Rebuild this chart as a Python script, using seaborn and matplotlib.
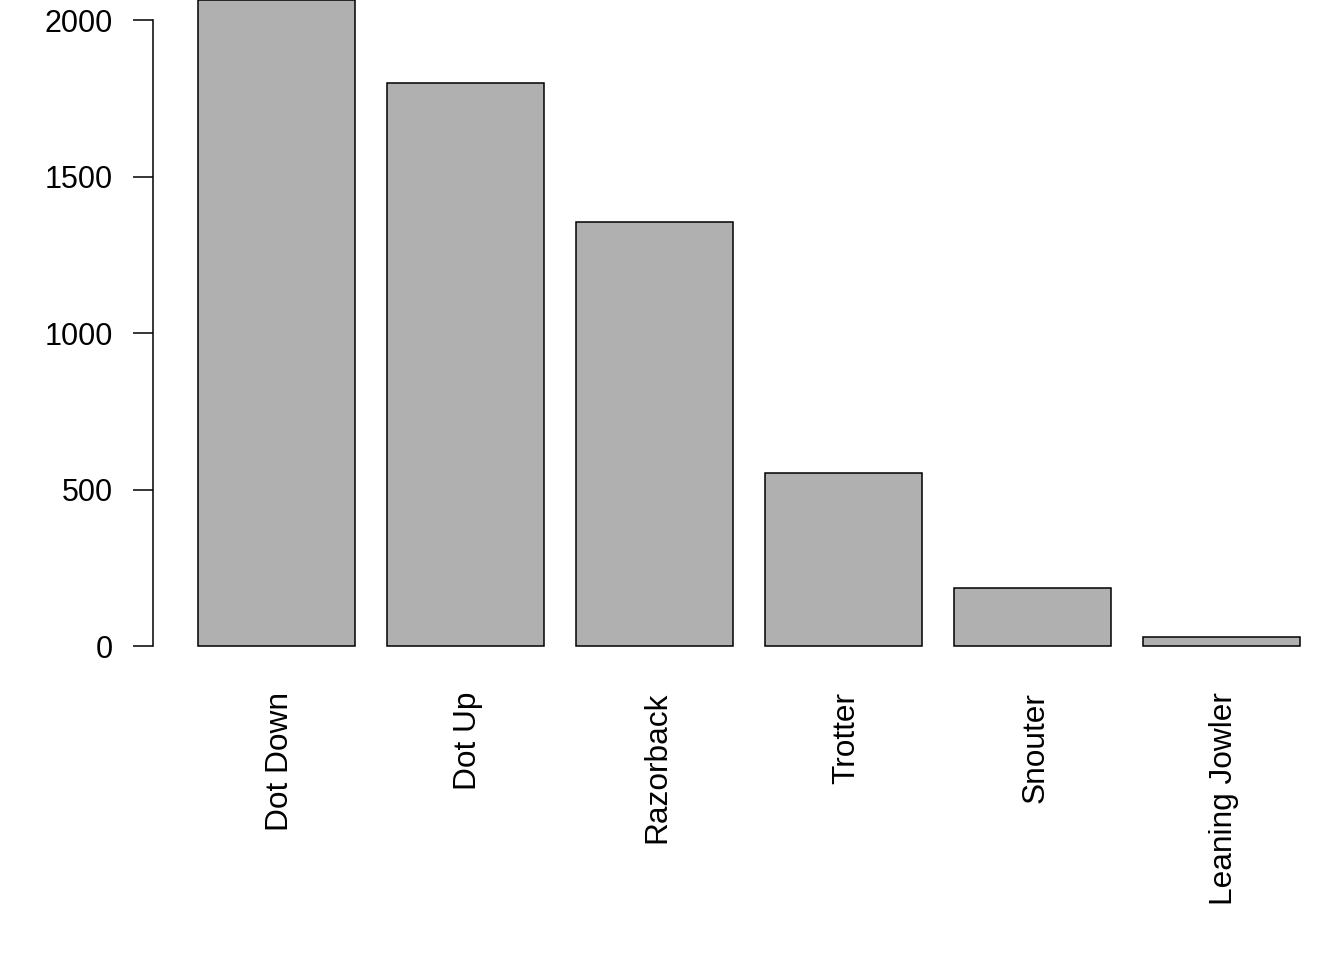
import matplotlib
matplotlib.use("Agg")
import matplotlib.pyplot as plt
import matplotlib.transforms as mtransforms
import seaborn as sns
import pandas as pd

# pig positions and their counts
positions = ["Dot Down", "Dot Up", "Razorback", "Trotter", "Snouter", "Leaning Jowler"]
counts = [2063, 1798, 1354, 552, 184, 29]
y_ticks = [0, 500, 1000, 1500, 2000]

df = pd.DataFrame({"position": positions, "count": counts})

sns.set_style("white")
plt.rcParams["font.family"] = ["Liberation Sans", "DejaVu Sans"]

fig = plt.figure(figsize=(13.44, 9.6), dpi=100)
ax = fig.add_axes([153 / 1344, (960 - 646) / 960, (1344 - 153) / 1344, 646 / 960])

sns.barplot(data=df, x="position", y="count", color="#B0B0B0", saturation=1,
            edgecolor="black", linewidth=1.1, width=0.831, ax=ax)
for p in ax.patches:
    p.set_clip_on(False)

ax.set_xlim(-0.654, 5.651)
ax.set_ylim(0, 2064)
ax.set_yticks(y_ticks)
ax.set_yticklabels([str(v) for v in y_ticks])
ax.set_xlabel("")
ax.set_ylabel("")

for s in ["top", "right", "bottom"]:
    ax.spines[s].set_visible(False)
ax.spines["left"].set_bounds(0, 2000)
ax.spines["left"].set_linewidth(1.1)
ax.spines["left"].set_color("black")

ax.tick_params(axis="y", length=14.4, width=1.1, pad=14.4, labelsize=22,
               colors="black", left=True)
ax.tick_params(axis="x", length=0, pad=33, labelsize=22.8, labelrotation=90,
               colors="black")
shift = mtransforms.ScaledTranslation(0.03, 0, fig.dpi_scale_trans)
for lab in ax.get_xticklabels():
    lab.set_va("top")
    lab.set_ha("center")
    lab.set_transform(lab.get_transform() + shift)

fig.savefig("out.png", dpi=100, facecolor="white")
